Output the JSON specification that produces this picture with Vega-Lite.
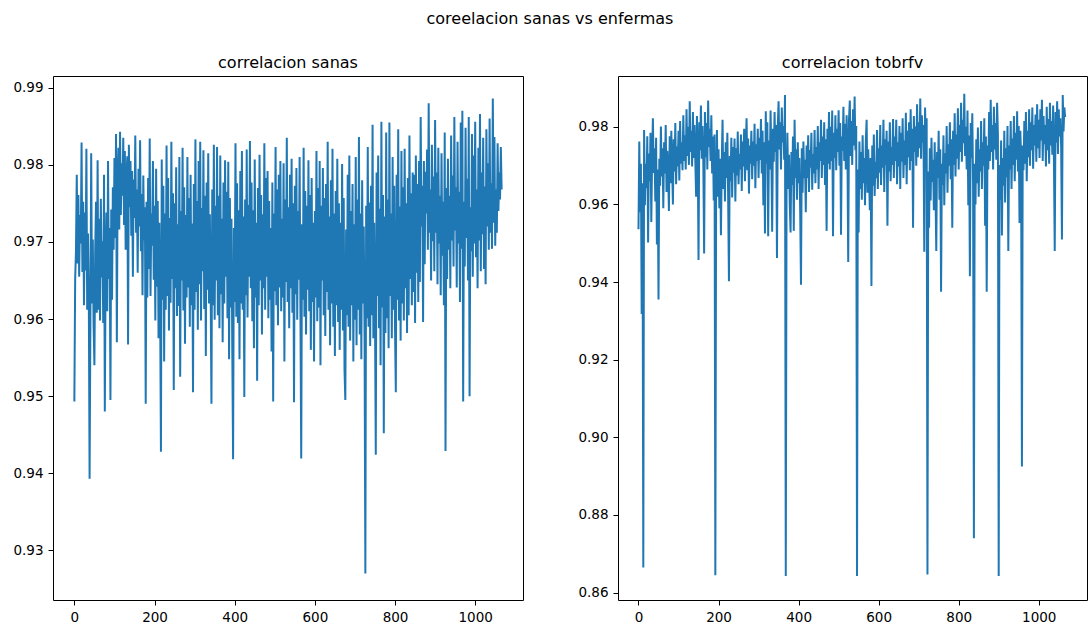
{
  "$schema": "https://vega.github.io/schema/vega-lite/v6.json",
  "background": "white",
  "padding": {"left": 12, "top": 10, "right": 3, "bottom": 5},
  "title": {"text": "coreelacion sanas vs enfermas", "anchor": "middle", "fontSize": 16, "font": "DejaVu Sans", "fontWeight": "normal", "color": "black", "baseline": "alphabetic", "offset": 15},
  "data": {"values": [
{"i":0,"sanas":0.9493,"tobrfv":0.9536},{"i":2,"sanas":0.9652,"tobrfv":0.9762},{"i":4,"sanas":0.9688,"tobrfv":0.9580},{"i":6,"sanas":0.9787,"tobrfv":0.9705},{"i":8,"sanas":0.9672,"tobrfv":0.9318},{"i":10,"sanas":0.9761,"tobrfv":0.9655},{"i":12,"sanas":0.9655,"tobrfv":0.8665},{"i":14,"sanas":0.9735,"tobrfv":0.9792},{"i":16,"sanas":0.9698,"tobrfv":0.9598},{"i":18,"sanas":0.9829,"tobrfv":0.9705},
{"i":20,"sanas":0.9661,"tobrfv":0.9642},{"i":22,"sanas":0.9752,"tobrfv":0.9776},{"i":24,"sanas":0.9618,"tobrfv":0.9502},{"i":26,"sanas":0.9738,"tobrfv":0.9731},{"i":28,"sanas":0.9663,"tobrfv":0.9660},{"i":30,"sanas":0.9821,"tobrfv":0.9785},{"i":32,"sanas":0.9612,"tobrfv":0.9555},{"i":34,"sanas":0.9711,"tobrfv":0.9720},{"i":36,"sanas":0.9635,"tobrfv":0.9822},{"i":38,"sanas":0.9393,"tobrfv":0.9681},
{"i":40,"sanas":0.9598,"tobrfv":0.9745},{"i":42,"sanas":0.9815,"tobrfv":0.9608},{"i":44,"sanas":0.9620,"tobrfv":0.9772},{"i":46,"sanas":0.9703,"tobrfv":0.9497},{"i":48,"sanas":0.9591,"tobrfv":0.9690},{"i":50,"sanas":0.9540,"tobrfv":0.9355},{"i":52,"sanas":0.9689,"tobrfv":0.9718},{"i":54,"sanas":0.9752,"tobrfv":0.9648},{"i":56,"sanas":0.9608,"tobrfv":0.9801},{"i":58,"sanas":0.9806,"tobrfv":0.9672},
{"i":60,"sanas":0.9612,"tobrfv":0.9745},{"i":62,"sanas":0.9730,"tobrfv":0.9590},{"i":64,"sanas":0.9598,"tobrfv":0.9760},{"i":66,"sanas":0.9756,"tobrfv":0.9680},{"i":68,"sanas":0.9654,"tobrfv":0.9805},{"i":70,"sanas":0.9701,"tobrfv":0.9632},{"i":72,"sanas":0.9595,"tobrfv":0.9738},{"i":74,"sanas":0.9787,"tobrfv":0.9690},{"i":76,"sanas":0.9480,"tobrfv":0.9583},{"i":78,"sanas":0.9668,"tobrfv":0.9776},
{"i":80,"sanas":0.9738,"tobrfv":0.9655},{"i":82,"sanas":0.9610,"tobrfv":0.9790},{"i":84,"sanas":0.9805,"tobrfv":0.9702},{"i":86,"sanas":0.9652,"tobrfv":0.9600},{"i":88,"sanas":0.9718,"tobrfv":0.9768},{"i":90,"sanas":0.9495,"tobrfv":0.9685},{"i":92,"sanas":0.9742,"tobrfv":0.9810},{"i":94,"sanas":0.9625,"tobrfv":0.9652},{"i":96,"sanas":0.9771,"tobrfv":0.9749},{"i":98,"sanas":0.9690,"tobrfv":0.9698},
{"i":100,"sanas":0.9809,"tobrfv":0.9790},{"i":102,"sanas":0.9705,"tobrfv":0.9662},{"i":104,"sanas":0.9840,"tobrfv":0.9815},{"i":106,"sanas":0.9570,"tobrfv":0.9705},{"i":108,"sanas":0.9782,"tobrfv":0.9760},{"i":110,"sanas":0.9822,"tobrfv":0.9688},{"i":112,"sanas":0.9716,"tobrfv":0.9830},{"i":114,"sanas":0.9843,"tobrfv":0.9712},{"i":116,"sanas":0.9735,"tobrfv":0.9778},{"i":118,"sanas":0.9802,"tobrfv":0.9690},
{"i":120,"sanas":0.9760,"tobrfv":0.9845},{"i":122,"sanas":0.9835,"tobrfv":0.9725},{"i":124,"sanas":0.9722,"tobrfv":0.9800},{"i":126,"sanas":0.9818,"tobrfv":0.9702},{"i":128,"sanas":0.9690,"tobrfv":0.9866},{"i":130,"sanas":0.9779,"tobrfv":0.9735},{"i":132,"sanas":0.9811,"tobrfv":0.9790},{"i":134,"sanas":0.9567,"tobrfv":0.9698},{"i":136,"sanas":0.9826,"tobrfv":0.9838},{"i":138,"sanas":0.9745,"tobrfv":0.9720},
{"i":140,"sanas":0.9805,"tobrfv":0.9805},{"i":142,"sanas":0.9708,"tobrfv":0.9712},{"i":144,"sanas":0.9792,"tobrfv":0.9620},{"i":146,"sanas":0.9655,"tobrfv":0.9828},{"i":148,"sanas":0.9781,"tobrfv":0.9735},{"i":150,"sanas":0.9731,"tobrfv":0.9457},{"i":152,"sanas":0.9838,"tobrfv":0.9812},{"i":154,"sanas":0.9712,"tobrfv":0.9740},{"i":156,"sanas":0.9768,"tobrfv":0.9855},{"i":158,"sanas":0.9660,"tobrfv":0.9718},
{"i":160,"sanas":0.9795,"tobrfv":0.9802},{"i":162,"sanas":0.9720,"tobrfv":0.9705},{"i":164,"sanas":0.9832,"tobrfv":0.9474},{"i":166,"sanas":0.9688,"tobrfv":0.9838},{"i":168,"sanas":0.9762,"tobrfv":0.9722},{"i":170,"sanas":0.9631,"tobrfv":0.9810},{"i":172,"sanas":0.9786,"tobrfv":0.9690},{"i":174,"sanas":0.9702,"tobrfv":0.9868},{"i":176,"sanas":0.9745,"tobrfv":0.9748},{"i":178,"sanas":0.9490,"tobrfv":0.9795},
{"i":180,"sanas":0.9752,"tobrfv":0.9712},{"i":182,"sanas":0.9628,"tobrfv":0.9830},{"i":184,"sanas":0.9783,"tobrfv":0.9680},{"i":186,"sanas":0.9665,"tobrfv":0.9775},{"i":188,"sanas":0.9834,"tobrfv":0.9610},{"i":190,"sanas":0.9630,"tobrfv":0.9780},{"i":192,"sanas":0.9737,"tobrfv":0.8645},{"i":194,"sanas":0.9695,"tobrfv":0.9655},{"i":196,"sanas":0.9805,"tobrfv":0.9792},{"i":198,"sanas":0.9651,"tobrfv":0.9620},
{"i":200,"sanas":0.9747,"tobrfv":0.9742},{"i":202,"sanas":0.9598,"tobrfv":0.9590},{"i":204,"sanas":0.9795,"tobrfv":0.9718},{"i":206,"sanas":0.9642,"tobrfv":0.9521},{"i":208,"sanas":0.9753,"tobrfv":0.9702},{"i":210,"sanas":0.9575,"tobrfv":0.9818},{"i":212,"sanas":0.9725,"tobrfv":0.9640},{"i":214,"sanas":0.9615,"tobrfv":0.9735},{"i":216,"sanas":0.9428,"tobrfv":0.9608},{"i":218,"sanas":0.9807,"tobrfv":0.9760},
{"i":220,"sanas":0.9625,"tobrfv":0.9668},{"i":222,"sanas":0.9773,"tobrfv":0.9785},{"i":224,"sanas":0.9545,"tobrfv":0.9620},{"i":226,"sanas":0.9737,"tobrfv":0.9402},{"i":228,"sanas":0.9612,"tobrfv":0.9725},{"i":230,"sanas":0.9825,"tobrfv":0.9660},{"i":232,"sanas":0.9630,"tobrfv":0.9772},{"i":234,"sanas":0.9783,"tobrfv":0.9618},{"i":236,"sanas":0.9585,"tobrfv":0.9748},{"i":238,"sanas":0.9731,"tobrfv":0.9682},
{"i":240,"sanas":0.9621,"tobrfv":0.9770},{"i":242,"sanas":0.9830,"tobrfv":0.9608},{"i":244,"sanas":0.9652,"tobrfv":0.9745},{"i":246,"sanas":0.9763,"tobrfv":0.9675},{"i":248,"sanas":0.9508,"tobrfv":0.9788},{"i":250,"sanas":0.9750,"tobrfv":0.9652},{"i":252,"sanas":0.9640,"tobrfv":0.9730},{"i":254,"sanas":0.9797,"tobrfv":0.9690},{"i":256,"sanas":0.9604,"tobrfv":0.9780},{"i":258,"sanas":0.9723,"tobrfv":0.9635},
{"i":260,"sanas":0.9617,"tobrfv":0.9762},{"i":262,"sanas":0.9810,"tobrfv":0.9698},{"i":264,"sanas":0.9525,"tobrfv":0.9795},{"i":266,"sanas":0.9740,"tobrfv":0.9660},{"i":268,"sanas":0.9650,"tobrfv":0.9745},{"i":270,"sanas":0.9822,"tobrfv":0.9822},{"i":272,"sanas":0.9611,"tobrfv":0.9688},{"i":274,"sanas":0.9771,"tobrfv":0.9770},{"i":276,"sanas":0.9568,"tobrfv":0.9628},{"i":278,"sanas":0.9735,"tobrfv":0.9752},
{"i":280,"sanas":0.9628,"tobrfv":0.9705},{"i":282,"sanas":0.9810,"tobrfv":0.9790},{"i":284,"sanas":0.9641,"tobrfv":0.9665},{"i":286,"sanas":0.9757,"tobrfv":0.9762},{"i":288,"sanas":0.9590,"tobrfv":0.9700},{"i":290,"sanas":0.9787,"tobrfv":0.9808},{"i":292,"sanas":0.9618,"tobrfv":0.9642},{"i":294,"sanas":0.9724,"tobrfv":0.9755},{"i":296,"sanas":0.9505,"tobrfv":0.9712},{"i":298,"sanas":0.9775,"tobrfv":0.9795},
{"i":300,"sanas":0.9612,"tobrfv":0.9668},{"i":302,"sanas":0.9833,"tobrfv":0.9772},{"i":304,"sanas":0.9635,"tobrfv":0.9715},{"i":306,"sanas":0.9753,"tobrfv":0.9820},{"i":308,"sanas":0.9586,"tobrfv":0.9680},{"i":310,"sanas":0.9805,"tobrfv":0.9790},{"i":312,"sanas":0.9645,"tobrfv":0.9598},{"i":314,"sanas":0.9830,"tobrfv":0.9760},{"i":316,"sanas":0.9598,"tobrfv":0.9525},{"i":318,"sanas":0.9744,"tobrfv":0.9840},
{"i":320,"sanas":0.9662,"tobrfv":0.9705},{"i":322,"sanas":0.9819,"tobrfv":0.9812},{"i":324,"sanas":0.9613,"tobrfv":0.9518},{"i":326,"sanas":0.9760,"tobrfv":0.9765},{"i":328,"sanas":0.9552,"tobrfv":0.9690},{"i":330,"sanas":0.9777,"tobrfv":0.9842},{"i":332,"sanas":0.9638,"tobrfv":0.9722},{"i":334,"sanas":0.9815,"tobrfv":0.9530},{"i":336,"sanas":0.9620,"tobrfv":0.9795},{"i":338,"sanas":0.9736,"tobrfv":0.9710},
{"i":340,"sanas":0.9641,"tobrfv":0.9838},{"i":342,"sanas":0.9490,"tobrfv":0.9735},{"i":344,"sanas":0.9768,"tobrfv":0.9805},{"i":346,"sanas":0.9618,"tobrfv":0.9462},{"i":348,"sanas":0.9826,"tobrfv":0.9800},{"i":350,"sanas":0.9599,"tobrfv":0.9866},{"i":352,"sanas":0.9747,"tobrfv":0.9742},{"i":354,"sanas":0.9650,"tobrfv":0.9812},{"i":356,"sanas":0.9823,"tobrfv":0.9690},{"i":358,"sanas":0.9605,"tobrfv":0.9850},
{"i":360,"sanas":0.9760,"tobrfv":0.9760},{"i":362,"sanas":0.9588,"tobrfv":0.9802},{"i":364,"sanas":0.9812,"tobrfv":0.9715},{"i":366,"sanas":0.9632,"tobrfv":0.9882},{"i":368,"sanas":0.9730,"tobrfv":0.8643},{"i":370,"sanas":0.9570,"tobrfv":0.9672},{"i":372,"sanas":0.9777,"tobrfv":0.9785},{"i":374,"sanas":0.9620,"tobrfv":0.9640},{"i":376,"sanas":0.9806,"tobrfv":0.9728},{"i":378,"sanas":0.9655,"tobrfv":0.9598},
{"i":380,"sanas":0.9765,"tobrfv":0.9528},{"i":382,"sanas":0.9601,"tobrfv":0.9735},{"i":384,"sanas":0.9804,"tobrfv":0.9650},{"i":386,"sanas":0.9548,"tobrfv":0.9775},{"i":388,"sanas":0.9757,"tobrfv":0.9532},{"i":390,"sanas":0.9615,"tobrfv":0.9818},{"i":392,"sanas":0.9730,"tobrfv":0.9668},{"i":394,"sanas":0.9560,"tobrfv":0.9742},{"i":396,"sanas":0.9418,"tobrfv":0.9612},{"i":398,"sanas":0.9718,"tobrfv":0.9760},
{"i":400,"sanas":0.9622,"tobrfv":0.9655},{"i":402,"sanas":0.9828,"tobrfv":0.9720},{"i":404,"sanas":0.9603,"tobrfv":0.9582},{"i":406,"sanas":0.9776,"tobrfv":0.9393},{"i":408,"sanas":0.9595,"tobrfv":0.9745},{"i":410,"sanas":0.9741,"tobrfv":0.9630},{"i":412,"sanas":0.9548,"tobrfv":0.9762},{"i":414,"sanas":0.9792,"tobrfv":0.9668},{"i":416,"sanas":0.9620,"tobrfv":0.9715},{"i":418,"sanas":0.9818,"tobrfv":0.9580},
{"i":420,"sanas":0.9612,"tobrfv":0.9752},{"i":422,"sanas":0.9733,"tobrfv":0.9668},{"i":424,"sanas":0.9499,"tobrfv":0.9778},{"i":426,"sanas":0.9755,"tobrfv":0.9632},{"i":428,"sanas":0.9631,"tobrfv":0.9740},{"i":430,"sanas":0.9820,"tobrfv":0.9695},{"i":432,"sanas":0.9602,"tobrfv":0.9785},{"i":434,"sanas":0.9748,"tobrfv":0.9638},{"i":436,"sanas":0.9655,"tobrfv":0.9730},{"i":438,"sanas":0.9831,"tobrfv":0.9680},
{"i":440,"sanas":0.9640,"tobrfv":0.9792},{"i":442,"sanas":0.9777,"tobrfv":0.9655},{"i":444,"sanas":0.9597,"tobrfv":0.9748},{"i":446,"sanas":0.9741,"tobrfv":0.9690},{"i":448,"sanas":0.9562,"tobrfv":0.9802},{"i":450,"sanas":0.9807,"tobrfv":0.9640},{"i":452,"sanas":0.9628,"tobrfv":0.9760},{"i":454,"sanas":0.9725,"tobrfv":0.9712},{"i":456,"sanas":0.9520,"tobrfv":0.9818},{"i":458,"sanas":0.9770,"tobrfv":0.9668},
{"i":460,"sanas":0.9618,"tobrfv":0.9775},{"i":462,"sanas":0.9813,"tobrfv":0.9702},{"i":464,"sanas":0.9650,"tobrfv":0.9812},{"i":466,"sanas":0.9761,"tobrfv":0.9650},{"i":468,"sanas":0.9580,"tobrfv":0.9768},{"i":470,"sanas":0.9736,"tobrfv":0.9532},{"i":472,"sanas":0.9640,"tobrfv":0.9795},{"i":474,"sanas":0.9828,"tobrfv":0.9705},{"i":476,"sanas":0.9612,"tobrfv":0.9838},{"i":478,"sanas":0.9783,"tobrfv":0.9690},
{"i":480,"sanas":0.9655,"tobrfv":0.9800},{"i":482,"sanas":0.9792,"tobrfv":0.9712},{"i":484,"sanas":0.9601,"tobrfv":0.9842},{"i":486,"sanas":0.9753,"tobrfv":0.9518},{"i":488,"sanas":0.9625,"tobrfv":0.9785},{"i":490,"sanas":0.9718,"tobrfv":0.9720},{"i":492,"sanas":0.9558,"tobrfv":0.9830},{"i":494,"sanas":0.9777,"tobrfv":0.9688},{"i":496,"sanas":0.9493,"tobrfv":0.9795},{"i":498,"sanas":0.9737,"tobrfv":0.9735},
{"i":500,"sanas":0.9636,"tobrfv":0.9843},{"i":502,"sanas":0.9823,"tobrfv":0.9700},{"i":504,"sanas":0.9618,"tobrfv":0.9810},{"i":506,"sanas":0.9768,"tobrfv":0.9522},{"i":508,"sanas":0.9592,"tobrfv":0.9775},{"i":510,"sanas":0.9787,"tobrfv":0.9738},{"i":512,"sanas":0.9641,"tobrfv":0.9852},{"i":514,"sanas":0.9805,"tobrfv":0.9712},{"i":516,"sanas":0.9610,"tobrfv":0.9808},{"i":518,"sanas":0.9730,"tobrfv":0.9690},
{"i":520,"sanas":0.9628,"tobrfv":0.9830},{"i":522,"sanas":0.9802,"tobrfv":0.9745},{"i":524,"sanas":0.9545,"tobrfv":0.9452},{"i":526,"sanas":0.9755,"tobrfv":0.9820},{"i":528,"sanas":0.9648,"tobrfv":0.9868},{"i":530,"sanas":0.9835,"tobrfv":0.9725},{"i":532,"sanas":0.9622,"tobrfv":0.9815},{"i":534,"sanas":0.9745,"tobrfv":0.9702},{"i":536,"sanas":0.9588,"tobrfv":0.9845},{"i":538,"sanas":0.9787,"tobrfv":0.9752},
{"i":540,"sanas":0.9640,"tobrfv":0.9878},{"i":542,"sanas":0.9808,"tobrfv":0.9740},{"i":544,"sanas":0.9608,"tobrfv":0.9802},{"i":546,"sanas":0.9750,"tobrfv":0.8643},{"i":548,"sanas":0.9492,"tobrfv":0.9690},{"i":550,"sanas":0.9773,"tobrfv":0.9528},{"i":552,"sanas":0.9632,"tobrfv":0.9762},{"i":554,"sanas":0.9796,"tobrfv":0.9640},{"i":556,"sanas":0.9599,"tobrfv":0.9735},{"i":558,"sanas":0.9740,"tobrfv":0.9612},
{"i":560,"sanas":0.9651,"tobrfv":0.9778},{"i":562,"sanas":0.9810,"tobrfv":0.9655},{"i":564,"sanas":0.9612,"tobrfv":0.9720},{"i":566,"sanas":0.9419,"tobrfv":0.9598},{"i":568,"sanas":0.9723,"tobrfv":0.9765},{"i":570,"sanas":0.9625,"tobrfv":0.9818},{"i":572,"sanas":0.9822,"tobrfv":0.9630},{"i":574,"sanas":0.9603,"tobrfv":0.9742},{"i":576,"sanas":0.9766,"tobrfv":0.9675},{"i":578,"sanas":0.9580,"tobrfv":0.9585},
{"i":580,"sanas":0.9747,"tobrfv":0.9720},{"i":582,"sanas":0.9638,"tobrfv":0.9390},{"i":584,"sanas":0.9806,"tobrfv":0.9752},{"i":586,"sanas":0.9610,"tobrfv":0.9648},{"i":588,"sanas":0.9761,"tobrfv":0.9780},{"i":590,"sanas":0.9560,"tobrfv":0.9622},{"i":592,"sanas":0.9783,"tobrfv":0.9710},{"i":594,"sanas":0.9622,"tobrfv":0.9668},{"i":596,"sanas":0.9725,"tobrfv":0.9792},{"i":598,"sanas":0.9545,"tobrfv":0.9640},
{"i":600,"sanas":0.9740,"tobrfv":0.9745},{"i":602,"sanas":0.9628,"tobrfv":0.9682},{"i":604,"sanas":0.9818,"tobrfv":0.9805},{"i":606,"sanas":0.9597,"tobrfv":0.9650},{"i":608,"sanas":0.9770,"tobrfv":0.9752},{"i":610,"sanas":0.9615,"tobrfv":0.9695},{"i":612,"sanas":0.9805,"tobrfv":0.9818},{"i":614,"sanas":0.9540,"tobrfv":0.9632},{"i":616,"sanas":0.9747,"tobrfv":0.9768},{"i":618,"sanas":0.9650,"tobrfv":0.9701},
{"i":620,"sanas":0.9796,"tobrfv":0.9790},{"i":622,"sanas":0.9605,"tobrfv":0.9545},{"i":624,"sanas":0.9757,"tobrfv":0.9762},{"i":626,"sanas":0.9578,"tobrfv":0.9685},{"i":628,"sanas":0.9775,"tobrfv":0.9812},{"i":630,"sanas":0.9635,"tobrfv":0.9660},{"i":632,"sanas":0.9830,"tobrfv":0.9748},{"i":634,"sanas":0.9612,"tobrfv":0.9702},{"i":636,"sanas":0.9733,"tobrfv":0.9820},{"i":638,"sanas":0.9566,"tobrfv":0.9668},
{"i":640,"sanas":0.9780,"tobrfv":0.9775},{"i":642,"sanas":0.9620,"tobrfv":0.9712},{"i":644,"sanas":0.9821,"tobrfv":0.9818},{"i":646,"sanas":0.9590,"tobrfv":0.9652},{"i":648,"sanas":0.9737,"tobrfv":0.9760},{"i":650,"sanas":0.9552,"tobrfv":0.9698},{"i":652,"sanas":0.9766,"tobrfv":0.9802},{"i":654,"sanas":0.9618,"tobrfv":0.9640},{"i":656,"sanas":0.9808,"tobrfv":0.9785},{"i":658,"sanas":0.9596,"tobrfv":0.9710},
{"i":660,"sanas":0.9750,"tobrfv":0.9822},{"i":662,"sanas":0.9560,"tobrfv":0.9668},{"i":664,"sanas":0.9725,"tobrfv":0.9765},{"i":666,"sanas":0.9612,"tobrfv":0.9702},{"i":668,"sanas":0.9801,"tobrfv":0.9836},{"i":670,"sanas":0.9585,"tobrfv":0.9652},{"i":672,"sanas":0.9757,"tobrfv":0.9790},{"i":674,"sanas":0.9534,"tobrfv":0.9722},{"i":676,"sanas":0.9495,"tobrfv":0.9812},{"i":678,"sanas":0.9716,"tobrfv":0.9688},
{"i":680,"sanas":0.9605,"tobrfv":0.9845},{"i":682,"sanas":0.9787,"tobrfv":0.9712},{"i":684,"sanas":0.9590,"tobrfv":0.9795},{"i":686,"sanas":0.9812,"tobrfv":0.9540},{"i":688,"sanas":0.9572,"tobrfv":0.9828},{"i":690,"sanas":0.9740,"tobrfv":0.9735},{"i":692,"sanas":0.9618,"tobrfv":0.9801},{"i":694,"sanas":0.9775,"tobrfv":0.9700},{"i":696,"sanas":0.9545,"tobrfv":0.9858},{"i":698,"sanas":0.9723,"tobrfv":0.9722},
{"i":700,"sanas":0.9599,"tobrfv":0.9812},{"i":702,"sanas":0.9810,"tobrfv":0.9745},{"i":704,"sanas":0.9566,"tobrfv":0.9873},{"i":706,"sanas":0.9755,"tobrfv":0.9718},{"i":708,"sanas":0.9612,"tobrfv":0.9830},{"i":710,"sanas":0.9836,"tobrfv":0.9760},{"i":712,"sanas":0.9580,"tobrfv":0.9805},{"i":714,"sanas":0.9737,"tobrfv":0.9478},{"i":716,"sanas":0.9548,"tobrfv":0.9850},{"i":718,"sanas":0.9780,"tobrfv":0.9740},
{"i":720,"sanas":0.9620,"tobrfv":0.9822},{"i":722,"sanas":0.9720,"tobrfv":0.8647},{"i":724,"sanas":0.9580,"tobrfv":0.9685},{"i":726,"sanas":0.9270,"tobrfv":0.9540},{"i":728,"sanas":0.9747,"tobrfv":0.9745},{"i":730,"sanas":0.9601,"tobrfv":0.9610},{"i":732,"sanas":0.9823,"tobrfv":0.9772},{"i":734,"sanas":0.9590,"tobrfv":0.9658},{"i":736,"sanas":0.9751,"tobrfv":0.9715},{"i":738,"sanas":0.9565,"tobrfv":0.9585},
{"i":740,"sanas":0.9773,"tobrfv":0.9760},{"i":742,"sanas":0.9605,"tobrfv":0.9640},{"i":744,"sanas":0.9852,"tobrfv":0.9480},{"i":746,"sanas":0.9575,"tobrfv":0.9735},{"i":748,"sanas":0.9725,"tobrfv":0.9668},{"i":750,"sanas":0.9612,"tobrfv":0.9790},{"i":752,"sanas":0.9424,"tobrfv":0.9612},{"i":754,"sanas":0.9790,"tobrfv":0.9742},{"i":756,"sanas":0.9630,"tobrfv":0.9375},{"i":758,"sanas":0.9812,"tobrfv":0.9705},
{"i":760,"sanas":0.9588,"tobrfv":0.9650},{"i":762,"sanas":0.9743,"tobrfv":0.9778},{"i":764,"sanas":0.9540,"tobrfv":0.9598},{"i":766,"sanas":0.9856,"tobrfv":0.9732},{"i":768,"sanas":0.9615,"tobrfv":0.9680},{"i":770,"sanas":0.9761,"tobrfv":0.9802},{"i":772,"sanas":0.9452,"tobrfv":0.9630},{"i":774,"sanas":0.9733,"tobrfv":0.9755},{"i":776,"sanas":0.9582,"tobrfv":0.9700},{"i":778,"sanas":0.9842,"tobrfv":0.9812},
{"i":780,"sanas":0.9601,"tobrfv":0.9665},{"i":782,"sanas":0.9755,"tobrfv":0.9768},{"i":784,"sanas":0.9562,"tobrfv":0.9540},{"i":786,"sanas":0.9855,"tobrfv":0.9790},{"i":788,"sanas":0.9630,"tobrfv":0.9702},{"i":790,"sanas":0.9737,"tobrfv":0.9835},{"i":792,"sanas":0.9575,"tobrfv":0.9672},{"i":794,"sanas":0.9810,"tobrfv":0.9780},{"i":796,"sanas":0.9612,"tobrfv":0.9718},{"i":798,"sanas":0.9773,"tobrfv":0.9848},
{"i":800,"sanas":0.9588,"tobrfv":0.9690},{"i":802,"sanas":0.9505,"tobrfv":0.9805},{"i":804,"sanas":0.9787,"tobrfv":0.9735},{"i":806,"sanas":0.9625,"tobrfv":0.9862},{"i":808,"sanas":0.9846,"tobrfv":0.9710},{"i":810,"sanas":0.9598,"tobrfv":0.9818},{"i":812,"sanas":0.9746,"tobrfv":0.9758},{"i":814,"sanas":0.9572,"tobrfv":0.9885},{"i":816,"sanas":0.9818,"tobrfv":0.9725},{"i":818,"sanas":0.9620,"tobrfv":0.9800},
{"i":820,"sanas":0.9771,"tobrfv":0.9690},{"i":822,"sanas":0.9598,"tobrfv":0.9842},{"i":824,"sanas":0.9821,"tobrfv":0.9598},{"i":826,"sanas":0.9640,"tobrfv":0.9778},{"i":828,"sanas":0.9750,"tobrfv":0.9415},{"i":830,"sanas":0.9582,"tobrfv":0.9810},{"i":832,"sanas":0.9783,"tobrfv":0.9720},{"i":834,"sanas":0.9605,"tobrfv":0.9835},{"i":836,"sanas":0.9838,"tobrfv":0.9650},{"i":838,"sanas":0.9652,"tobrfv":0.8740},
{"i":840,"sanas":0.9763,"tobrfv":0.9705},{"i":842,"sanas":0.9618,"tobrfv":0.9600},{"i":844,"sanas":0.9790,"tobrfv":0.9768},{"i":846,"sanas":0.9635,"tobrfv":0.9655},{"i":848,"sanas":0.9787,"tobrfv":0.9798},{"i":850,"sanas":0.9595,"tobrfv":0.9620},{"i":852,"sanas":0.9812,"tobrfv":0.9742},{"i":854,"sanas":0.9660,"tobrfv":0.9685},{"i":856,"sanas":0.9775,"tobrfv":0.9815},{"i":858,"sanas":0.9622,"tobrfv":0.9640},
{"i":860,"sanas":0.9805,"tobrfv":0.9760},{"i":862,"sanas":0.9648,"tobrfv":0.9700},{"i":864,"sanas":0.9862,"tobrfv":0.9822},{"i":866,"sanas":0.9720,"tobrfv":0.9545},{"i":868,"sanas":0.9773,"tobrfv":0.9775},{"i":870,"sanas":0.9596,"tobrfv":0.9375},{"i":872,"sanas":0.9805,"tobrfv":0.9752},{"i":874,"sanas":0.9671,"tobrfv":0.9690},{"i":876,"sanas":0.9791,"tobrfv":0.9838},{"i":878,"sanas":0.9737,"tobrfv":0.9712},
{"i":880,"sanas":0.9820,"tobrfv":0.9870},{"i":882,"sanas":0.9690,"tobrfv":0.9735},{"i":884,"sanas":0.9880,"tobrfv":0.9805},{"i":886,"sanas":0.9712,"tobrfv":0.9690},{"i":888,"sanas":0.9768,"tobrfv":0.9852},{"i":890,"sanas":0.9650,"tobrfv":0.9742},{"i":892,"sanas":0.9826,"tobrfv":0.9810},{"i":894,"sanas":0.9701,"tobrfv":0.9715},{"i":896,"sanas":0.9785,"tobrfv":0.9862},{"i":898,"sanas":0.9662,"tobrfv":0.9780},
{"i":900,"sanas":0.9858,"tobrfv":0.8643},{"i":902,"sanas":0.9712,"tobrfv":0.9702},{"i":904,"sanas":0.9790,"tobrfv":0.9612},{"i":906,"sanas":0.9645,"tobrfv":0.9765},{"i":908,"sanas":0.9822,"tobrfv":0.9520},{"i":910,"sanas":0.9698,"tobrfv":0.9720},{"i":912,"sanas":0.9760,"tobrfv":0.9648},{"i":914,"sanas":0.9631,"tobrfv":0.9790},{"i":916,"sanas":0.9815,"tobrfv":0.9605},{"i":918,"sanas":0.9682,"tobrfv":0.9745},
{"i":920,"sanas":0.9752,"tobrfv":0.9670},{"i":922,"sanas":0.9618,"tobrfv":0.9802},{"i":924,"sanas":0.9842,"tobrfv":0.9480},{"i":926,"sanas":0.9429,"tobrfv":0.9752},{"i":928,"sanas":0.9770,"tobrfv":0.9690},{"i":930,"sanas":0.9652,"tobrfv":0.9815},{"i":932,"sanas":0.9808,"tobrfv":0.9640},{"i":934,"sanas":0.9690,"tobrfv":0.9770},{"i":936,"sanas":0.9760,"tobrfv":0.9702},{"i":938,"sanas":0.9640,"tobrfv":0.9828},
{"i":940,"sanas":0.9838,"tobrfv":0.9660},{"i":942,"sanas":0.9702,"tobrfv":0.9785},{"i":944,"sanas":0.9786,"tobrfv":0.9715},{"i":946,"sanas":0.9668,"tobrfv":0.9840},{"i":948,"sanas":0.9862,"tobrfv":0.9685},{"i":950,"sanas":0.9715,"tobrfv":0.9802},{"i":952,"sanas":0.9771,"tobrfv":0.9552},{"i":954,"sanas":0.9641,"tobrfv":0.9790},{"i":956,"sanas":0.9830,"tobrfv":0.9720},{"i":958,"sanas":0.9698,"tobrfv":0.8925},
{"i":960,"sanas":0.9765,"tobrfv":0.9752},{"i":962,"sanas":0.9622,"tobrfv":0.9688},{"i":964,"sanas":0.9855,"tobrfv":0.9815},{"i":966,"sanas":0.9691,"tobrfv":0.9705},{"i":968,"sanas":0.9870,"tobrfv":0.9838},{"i":970,"sanas":0.9493,"tobrfv":0.9660},{"i":972,"sanas":0.9752,"tobrfv":0.9790},{"i":974,"sanas":0.9668,"tobrfv":0.9722},{"i":976,"sanas":0.9848,"tobrfv":0.9845},{"i":978,"sanas":0.9705,"tobrfv":0.9700},
{"i":980,"sanas":0.9782,"tobrfv":0.9812},{"i":982,"sanas":0.9650,"tobrfv":0.9740},{"i":984,"sanas":0.9862,"tobrfv":0.9850},{"i":986,"sanas":0.9500,"tobrfv":0.9692},{"i":988,"sanas":0.9745,"tobrfv":0.9805},{"i":990,"sanas":0.9688,"tobrfv":0.9752},{"i":992,"sanas":0.9840,"tobrfv":0.9832},{"i":994,"sanas":0.9655,"tobrfv":0.9710},{"i":996,"sanas":0.9812,"tobrfv":0.9858},{"i":998,"sanas":0.9698,"tobrfv":0.9745},
{"i":1000,"sanas":0.9856,"tobrfv":0.9818},{"i":1002,"sanas":0.9680,"tobrfv":0.9720},{"i":1004,"sanas":0.9768,"tobrfv":0.9845},{"i":1006,"sanas":0.9640,"tobrfv":0.9765},{"i":1008,"sanas":0.9822,"tobrfv":0.9870},{"i":1010,"sanas":0.9702,"tobrfv":0.9712},{"i":1012,"sanas":0.9866,"tobrfv":0.9828},{"i":1014,"sanas":0.9662,"tobrfv":0.9755},{"i":1016,"sanas":0.9790,"tobrfv":0.9805},{"i":1018,"sanas":0.9710,"tobrfv":0.9698},
{"i":1020,"sanas":0.9835,"tobrfv":0.9852},{"i":1022,"sanas":0.9665,"tobrfv":0.9740},{"i":1024,"sanas":0.9772,"tobrfv":0.9820},{"i":1026,"sanas":0.9645,"tobrfv":0.9705},{"i":1028,"sanas":0.9846,"tobrfv":0.9862},{"i":1030,"sanas":0.9720,"tobrfv":0.9752},{"i":1032,"sanas":0.9802,"tobrfv":0.9815},{"i":1034,"sanas":0.9690,"tobrfv":0.9728},{"i":1036,"sanas":0.9860,"tobrfv":0.9855},{"i":1038,"sanas":0.9712,"tobrfv":0.9712},
{"i":1040,"sanas":0.9776,"tobrfv":0.9480},{"i":1042,"sanas":0.9691,"tobrfv":0.9838},{"i":1044,"sanas":0.9886,"tobrfv":0.9760},{"i":1046,"sanas":0.9725,"tobrfv":0.9866},{"i":1048,"sanas":0.9836,"tobrfv":0.9730},{"i":1050,"sanas":0.9695,"tobrfv":0.9845},{"i":1052,"sanas":0.9768,"tobrfv":0.9775},{"i":1054,"sanas":0.9712,"tobrfv":0.9822},{"i":1056,"sanas":0.9828,"tobrfv":0.9750},{"i":1058,"sanas":0.9740,"tobrfv":0.9510},
{"i":1060,"sanas":0.9790,"tobrfv":0.9882},{"i":1062,"sanas":0.9755,"tobrfv":0.9788},{"i":1064,"sanas":0.9823,"tobrfv":0.9850},{"i":1066,"sanas":0.9768,"tobrfv":0.9825}
  ]},
  "spacing": 53,
  "hconcat": [
    {
      "width": 470,
      "height": 524,
      "title": "correlacion sanas",
      "mark": {"type": "line", "color": "#1f77b4", "strokeWidth": 2, "clip": true},
      "encoding": {
        "x": {"field": "i", "type": "quantitative", "title": null,
              "scale": {"domain": [-53.3, 1119.3], "nice": false, "zero": false},
              "axis": {"values": [0, 200, 400, 600, 800, 1000], "format": "d"}},
        "y": {"field": "sanas", "type": "quantitative", "title": null,
              "scale": {"domain": [0.92356, 0.99152], "nice": false, "zero": false},
              "axis": {"values": [0.93, 0.94, 0.95, 0.96, 0.97, 0.98, 0.99], "format": ".2f"}}
      }
    },
    {
      "width": 469,
      "height": 524,
      "title": "correlacion tobrfv",
      "mark": {"type": "line", "color": "#1f77b4", "strokeWidth": 2, "clip": true},
      "encoding": {
        "x": {"field": "i", "type": "quantitative", "title": null,
              "scale": {"domain": [-51.2, 1120.6], "nice": false, "zero": false},
              "axis": {"values": [0, 200, 400, 600, 800, 1000], "format": "d"}},
        "y": {"field": "tobrfv", "type": "quantitative", "title": null,
              "scale": {"domain": [0.8581, 0.9931], "nice": false, "zero": false},
              "axis": {"values": [0.86, 0.88, 0.90, 0.92, 0.94, 0.96, 0.98], "format": ".2f"}}
      }
    }
  ],
  "config": {
    "view": {"stroke": "black", "strokeWidth": 1},
    "axis": {
      "grid": false,
      "domain": false,
      "tickColor": "black",
      "tickSize": 5,
      "tickWidth": 1,
      "labelFont": "DejaVu Sans",
      "labelFontSize": 13.5,
      "labelColor": "black",
      "labelPadding": 5,
      "labelFlush": false,
      "labelOverlap": false
    },
    "title": {"font": "DejaVu Sans", "fontSize": 16, "fontWeight": "normal", "color": "black", "baseline": "alphabetic", "offset": 5}
  }
}
